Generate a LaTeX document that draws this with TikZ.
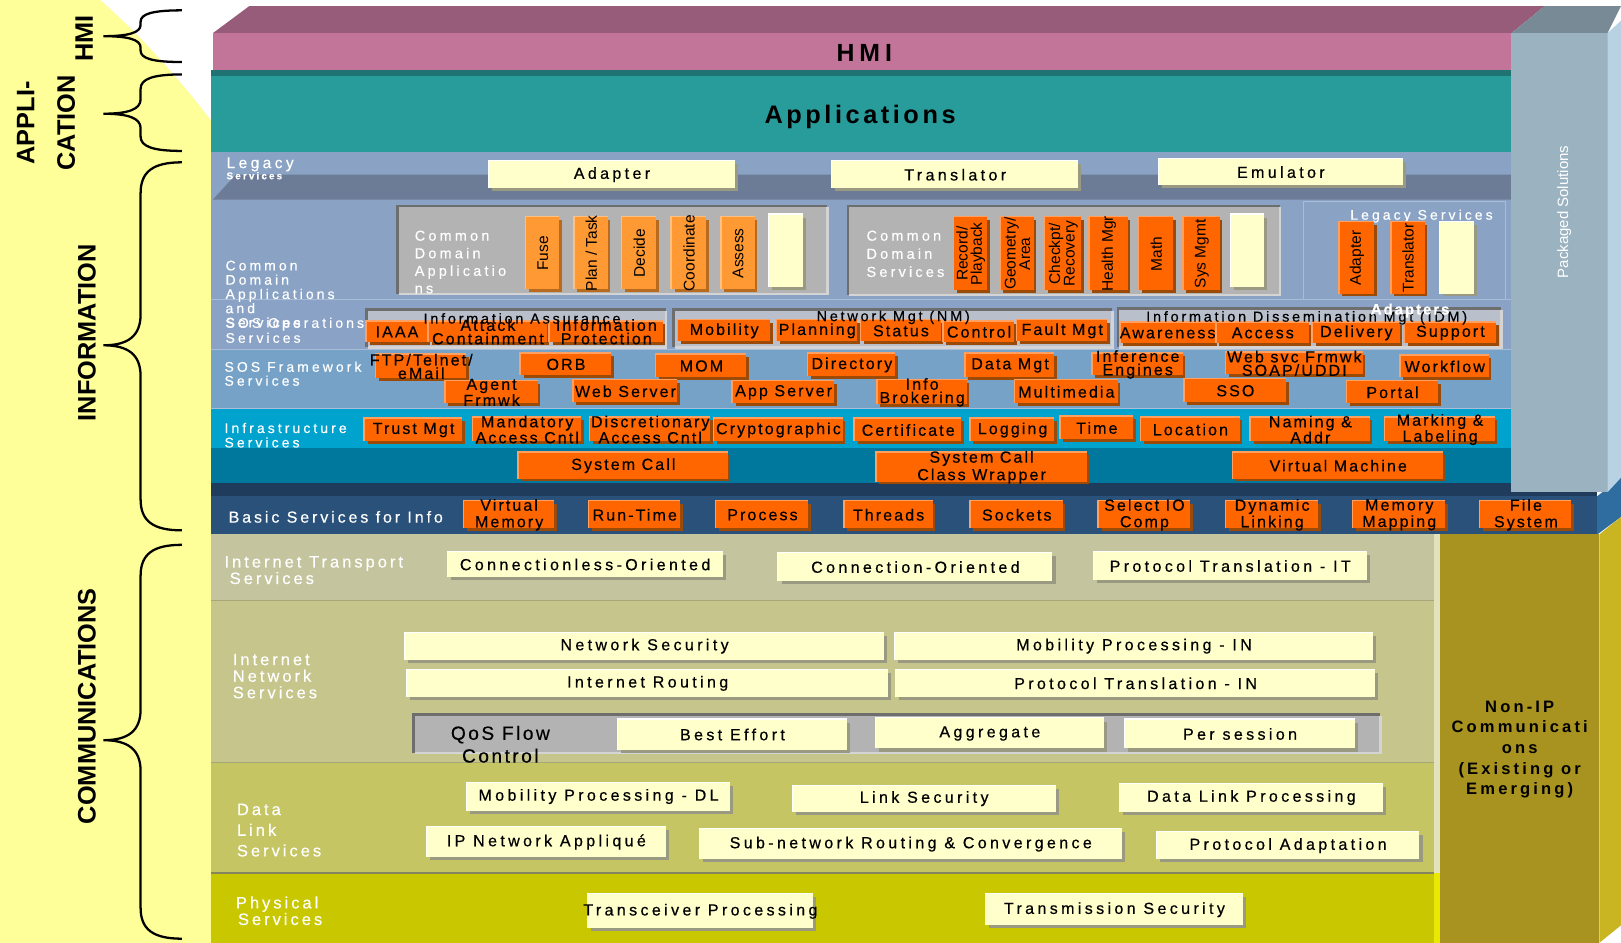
\documentclass[tikz,border=0pt]{standalone}
\usepackage{fontspec}
\setmainfont{Liberation Sans}
\newfontfamily\fPlain{Liberation Sans}
\newfontfamily\fLab[LetterSpace=22,FakeBold=0.4]{Liberation Sans}
\newfontfamily\fCom[LetterSpace=18,FakeBold=0.4]{Liberation Sans}
\newfontfamily\fBox[LetterSpace=21,FakeBold=0.5]{Liberation Sans}
\newfontfamily\fOr[LetterSpace=13,FakeBold=0.4]{Liberation Sans}
\newfontfamily\fTitle[LetterSpace=19,FakeBold=0.4]{Liberation Sans}
\newfontfamily\fHmi[LetterSpace=20]{Liberation Sans}
\newfontfamily\fApp[LetterSpace=14]{Liberation Sans}
\newfontfamily\fNon[LetterSpace=19]{Liberation Sans}

% palette
\definecolor{YelBg}{HTML}{FFFF99}
\definecolor{HmiTop}{HTML}{975C79}
\definecolor{HmiFront}{HTML}{C27499}
\definecolor{AppDark}{HTML}{1F7373}
\definecolor{AppFront}{HTML}{289B9B}
\definecolor{LegFront}{HTML}{8AA3C4}
\definecolor{LegTop}{HTML}{6C7C97}
\definecolor{OpsFront}{HTML}{8AA2C5}
\definecolor{FwFront}{HTML}{76A2C8}
\definecolor{InfFront}{HTML}{00A3CE}
\definecolor{Kern}{HTML}{00779C}
\definecolor{BasTop}{HTML}{1F3C5C}
\definecolor{Basic}{HTML}{2A5179}
\definecolor{BasSide}{HTML}{2F6CA0}
\definecolor{ColFront}{HTML}{9BB2C1}
\definecolor{ColTop}{HTML}{788A96}
\definecolor{ColSide}{HTML}{B8D1E3}
\definecolor{Trans}{HTML}{C4C59E}
\definecolor{Inet}{HTML}{C5C58C}
\definecolor{DLink}{HTML}{C5C563}
\definecolor{Phys}{HTML}{C8C700}
\definecolor{StripLt}{HTML}{E2E2BC}
\definecolor{StripYl}{HTML}{E8E800}
\definecolor{NonIP}{HTML}{A89320}
\definecolor{NonIPSide}{HTML}{C9B521}
\definecolor{CommLine}{HTML}{A6A678}
\definecolor{SepBlue}{HTML}{A9BDD9}
\definecolor{OFill}{HTML}{FF6600}
\definecolor{OHi}{HTML}{FFA060}
\definecolor{OSh}{HTML}{9C4A08}
\definecolor{LOFill}{HTML}{FF9933}
\definecolor{LOHi}{HTML}{FFC080}
\definecolor{LOSh}{HTML}{B86A1E}
\definecolor{YFill}{HTML}{FFFFCC}
\definecolor{YSh}{HTML}{9A9A82}
\definecolor{PGray}{HTML}{B3B3B3}
\definecolor{PDark}{HTML}{6E6E6E}
\definecolor{PEdge}{HTML}{D4D4D4}
\definecolor{OpsPanel}{HTML}{B9C0CC}

\tikzset{
  ysh/.style={fill=YSh}, yhi/.style={fill=white}, yfill/.style={fill=YFill},
  osh/.style={fill=OSh}, ohi/.style={fill=OHi}, ofill/.style={fill=OFill},
  losh/.style={fill=LOSh}, lohi/.style={fill=LOHi}, lofill/.style={fill=LOFill},
  ytext/.style={font=\fBox\fontsize{15.5}{15}\selectfont, align=center, inner sep=0},
  otext/.style={font=\fOr\fontsize{15.5}{13}\selectfont, align=center, inner sep=0},
  vtext/.style={font=\fPlain\fontsize{15}{14}\selectfont, align=center, inner sep=0, rotate=90},
  rowlab/.style={font=\fLab\fontsize{13.5}{13.8}\selectfont, text=white, anchor=west, align=left, inner sep=0},
  comlab/.style={font=\fCom\fontsize{16}{16}\selectfont, text=white, anchor=west, align=left, inner sep=0},
  paneltitle/.style={font=\fTitle\fontsize{14}{13}\selectfont, inner sep=0},
  sidelab/.style={font=\fPlain\bfseries\fontsize{24.5}{39}\selectfont, rotate=90, align=center, inner sep=0},
  brc/.style={line width=2.2pt, black},
}

% yellow service box: [node opts]{name}{x1}{y1}{x2}{y2}{text}
\newcommand\YBox[7][]{%
  \fill[ysh] ({#3+3},{#4+3}) rectangle ({#5+3},{#6+3});
  \fill[yhi] ({#3-1},{#4-1}) rectangle (#5,#6);
  \fill[yfill] (#3,#4) rectangle (#5,#6);
  \node[ytext,#1] (#2) at ({(#3+#5)/2},{(#4+#6)/2}) {#7};}
% orange service box
\newcommand\OBox[7][]{%
  \fill[osh] ({#3+2.5},{#4+2.5}) rectangle ({#5+2.5},{#6+2.5});
  \fill[ohi] ({#3-1.5},{#4-1.5}) rectangle (#5,#6);
  \fill[ofill] (#3,#4) rectangle (#5,#6);
  \node[otext,#1] (#2) at ({(#3+#5)/2},{(#4+#6)/2}) {#7};}
% upright box with rotated text, palette prefix o / lo / y
\newcommand\VBox[8][]{%
  \fill[#7sh] ({#3+2.5},{#4+2.5}) rectangle ({#5+2.5},{#6+2.5});
  \fill[#7hi] ({#3-1.5},{#4-1.5}) rectangle (#5,#6);
  \fill[#7fill] (#3,#4) rectangle (#5,#6);
  \node[vtext,#1] (#2) at ({(#3+#5)/2},{(#4+#6)/2}) {#8};}
% recessed grey panel
\newcommand\GPanel[5][PGray]{%
  \fill[PDark] (#2,#3) rectangle (#4,#5);
  \fill[PEdge] ({#2+2.5},{#3+2.5}) rectangle ({#4+1.5},{#5+1.5});
  \fill[#1] ({#2+2.5},{#3+2.5}) rectangle ({#4-1},{#5-1});}
% curly brace opening to the right: [radius]{top}{tip}{bottom}
\newcommand\Brc[4][30]{%
  \draw[brc] (176,#2) .. controls (148,#2) and (136,{#2+0.3*#1}) .. (136,{#2+#1})
    -- (136,{#3-#1}) .. controls (136,{#3-0.3*#1}) and (124,#3) .. (100,#3)
    .. controls (124,#3) and (136,{#3+0.3*#1}) .. (136,{#3+#1})
    -- (136,{#4-#1}) .. controls (136,{#4-0.3*#1}) and (148,#4) .. (176,#4);}

\begin{document}
\begin{tikzpicture}[x=1pt,y=-1pt]
\useasboundingbox (0,0) rectangle (1568,912);
\fill[white] (0,0) rectangle (1568,912);
\fill[YelBg] (0,0) -- (97,0) .. controls (140,38) and (178,82) .. (206,119) -- (206,912) -- (0,912) -- cycle;

% ---------- information stack ----------
\fill[HmiTop] (206,32) -- (241,6) -- (1494,6) -- (1462,32) -- cycle;
\fill[HmiFront] (206,32) rectangle (1462,68);
\fill[AppDark] (204,68) rectangle (1462,74);
\fill[AppFront] (204,74) rectangle (1462,147);
\fill[LegFront] (204,147) rectangle (1462,193);
\fill[LegTop] (206,193) -- (228,169) -- (1462,169) -- (1462,193) -- cycle;
\fill[LegFront] (204,193) rectangle (1462,290);
\fill[OpsFront] (204,290) rectangle (1462,338);
\fill[FwFront] (204,338) rectangle (1462,395);
\fill[InfFront] (204,395) rectangle (1462,433);
\fill[Kern] (204,433) rectangle (1462,467);
\fill[BasTop] (204,467) rectangle (1545,480);
\fill[Basic] (204,480) rectangle (1545,517);
\fill[BasSide] (1545,480) -- (1568,462) -- (1568,500) -- (1545,517) -- cycle;
\draw[SepBlue, line width=1pt] (204,290) -- (1462,290);
\draw[SepBlue, line width=1pt] (204,338) -- (1462,338);
\draw[SepBlue, line width=1pt] (204,395) -- (1462,395);

% packaged solutions column
\fill[ColTop] (1462,32) -- (1494,6) -- (1568,6) -- (1555,32) -- cycle;
\fill[ColFront] (1462,32) rectangle (1555,476);
\fill[ColSide] (1555,32) -- (1568,20) -- (1568,462) -- (1555,476) -- cycle;
\node[font=\fPlain\fontsize{14.5}{15}\selectfont, text=white, rotate=90, inner sep=0] (pkg) at (1513,205) {Packaged Solutions};

% ---------- communications stack ----------
\fill[Trans] (204,517) rectangle (1390,580);
\fill[Inet] (204,580) rectangle (1390,737);
\fill[DLink] (204,737) rectangle (1390,844);
\fill[Phys] (204,844) rectangle (1390,912);
\draw[CommLine, line width=1.2pt] (204,580.5) -- (1390,580.5);
\draw[CommLine, line width=1.2pt] (204,737.5) -- (1390,737.5);
\draw[CommLine!80!black, line width=1.2pt] (204,844.5) -- (1390,844.5);
\fill[StripLt] (1387,517) rectangle (1393,844);
\fill[StripYl] (1387,844) rectangle (1393,912);
\fill[NonIP] (1393,517) rectangle (1547,912);
\fill[NonIPSide] (1547,517) -- (1568,500) -- (1568,895) -- (1547,912) -- cycle;
\node[font=\fNon\bfseries\fontsize{16}{20}\selectfont, align=center, inner sep=0] (nonip) at (1470,725)
  {Non-IP\\Communicati\\ons\\(Existing or\\Emerging)};

% ---------- side labels and braces ----------
\node[sidelab] (lblHMI) at (81.5,37) {HMI};
\node[sidelab] (lblApp) at (44.5,119) {APPLI-\\CATION};
\node[sidelab] (lblInfo) at (84,322) {INFORMATION};
\node[sidelab] (lblComm) at (84,683) {COMMUNICATIONS};
\Brc[11]{10}{35}{60}
\Brc[14]{72}{110}{146}
\Brc[30]{157}{334}{513}
\Brc[30]{527}{716}{908}

% ---------- HMI / applications ----------
\node[font=\fHmi\bfseries\fontsize{24}{24}\selectfont, inner sep=0] (hmiT) at (836,51) {HMI};
\node[font=\fApp\bfseries\fontsize{24.5}{25}\selectfont, inner sep=0] (appT) at (832,113) {Applications};

% ---------- legacy services ----------
\node[font=\fLab\fontsize{15}{14}\selectfont, text=white, anchor=west, inner sep=0] (legL) at (219,159) {Legacy};
\node[font=\fLab\bfseries\fontsize{9.5}{10}\selectfont, text=white, anchor=west, inner sep=0] (legS) at (219,170) {Services};
\YBox{adapter}{473}{156}{711}{182}{Adapter}
\YBox{translator}{805}{156}{1043}{182}{Translator}
\YBox{emulator}{1121}{154}{1357}{179}{Emulator}

% ---------- common domain ----------
\node[rowlab] (cdaL) at (218,284.5) {Common\\Domain\\Applications\\and\\Services};
\GPanel{383}{198}{800}{284}
\node[font=\fLab\fontsize{14}{17}\selectfont, text=white, anchor=west, align=left, inner sep=0] (cdaP) at (401,253.5) {Common\\Domain\\Applicatio\\ns};
\VBox{fuse}{509}{210}{541}{280}{lo}{Fuse}
\VBox{plan}{556}{210}{588}{280}{lo}{Plan / Task}
\VBox{decide}{602}{210}{635}{280}{lo}{Decide}
\VBox{coord}{650}{210}{683}{280}{lo}{Coordinate}
\VBox{assess}{698}{210}{730}{280}{lo}{Assess}
\VBox{cdaBlank}{744}{208}{777}{278}{y}{}

\GPanel{819}{198}{1238}{285}
\node[font=\fLab\fontsize{14}{17.5}\selectfont, text=white, anchor=west, align=left, inner sep=0] (cdsP) at (838,245.5) {Common\\Domain\\Services};
\VBox{record}{923}{210}{955}{281}{o}{Record/\\Playback}
\VBox{geom}{968}{210}{1000}{281}{o}{Geometry/\\Area}
\VBox{checkpt}{1011}{210}{1046}{281}{o}{Checkpt/\\Recovery}
\VBox{health}{1054}{210}{1091}{281}{o}{Health Mgr}
\VBox{math}{1102}{210}{1135}{281}{o}{Math}
\VBox{sysmgmt}{1145}{210}{1180}{281}{o}{Sys Mgmt}
\VBox{cdsBlank}{1191}{208}{1223}{278}{y}{}

\draw[SepBlue, line width=1pt] (1261,290) -- (1261,195) -- (1456,195) -- (1456,290);
\node[font=\fLab\fontsize{13.5}{13}\selectfont, text=white, inner sep=0] (legSvc) at (1375,209) {Legacy Services};
\VBox{lsAdapter}{1296}{215}{1329}{284}{o}{Adapter}
\VBox{lsTranslator}{1346}{215}{1378}{284}{o}{Translator}
\VBox{lsBlank}{1393}{215}{1426}{284}{y}{}

% ---------- SOS operations ----------
\node[font=\fLab\fontsize{13.5}{14.5}\selectfont, text=white, anchor=west, align=left, inner sep=0] (opsL) at (218,319.5) {SOS Operations\\Services};
\GPanel[OpsPanel]{353}{298}{644}{336}
\OBox{iaaa}{355}{311}{413}{331}{IAAA}
\OBox{attack}{415}{311}{529}{331}{Attack\\Containment}
\OBox{infoprot}{532}{311}{641}{331}{Information\\Protection}
\node[paneltitle] (iaT) at (505,308) {Information Assurance};
\GPanel[OpsPanel]{650}{298}{1076}{336}
\OBox{mobility}{656}{310}{745}{330}{Mobility}
\OBox{planning}{752}{310}{829}{330}{Planning}
\OBox{status}{833}{310}{910}{330}{Status}
\OBox{control}{913}{311}{981}{331}{Control}
\OBox{fault}{984}{310}{1071}{330}{Fault Mgt}
\node[paneltitle] (nmT) at (864,307) {Network Mgt (NM)};
\GPanel[OpsPanel]{1080}{297}{1452}{336}
\OBox{aware}{1084}{312}{1175}{332}{Awareness}
\OBox{access}{1177}{312}{1266}{332}{Access}
\OBox{delivery}{1270}{312}{1354}{332}{Delivery}
\OBox{support}{1359}{312}{1447}{332}{Support}
\node[paneltitle] (idmT) at (1264,307.5) {Information Dissemination Mgt (IDM)};
\node[font=\fOr\bfseries\fontsize{14.5}{14}\selectfont, text=white, inner sep=0] (adapters) at (1364,300.5) {Adapters};

% ---------- SOS framework ----------
\node[font=\fLab\fontsize{13.5}{13.5}\selectfont, text=white, anchor=west, align=left, inner sep=0] (fwL) at (217,361.5) {SOS Framework\\Services};
\OBox{ftp}{364}{343}{451}{366}{FTP/Telnet/\\eMail}
\OBox{orb}{504}{342}{591}{363}{ORB}
\OBox{mom}{635}{343}{722}{365}{MOM}
\OBox{directory}{782}{342}{866}{364}{Directory}
\OBox{datamgt}{934}{342}{1020}{365}{Data Mgt}
\OBox{inference}{1057}{342}{1144}{363}{Inference\\Engines}
\OBox{websvc}{1186}{341}{1318}{362}{Web svc Frmwk\\SOAP/UDDI}
\OBox{workflow}{1355}{344}{1440}{365}{Workflow}
\OBox{agent}{431}{369}{520}{390}{Agent\\Frmwk}
\OBox{webserver}{555}{368}{655}{389}{Web Server}
\OBox{appserver}{709}{369}{807}{390}{App Server}
\OBox{infobrok}{849}{368}{935}{391}{Info\\Brokering}
\OBox{multimedia}{982}{368}{1081}{390}{Multimedia}
\OBox{sso}{1146}{367}{1244}{389}{SSO}
\OBox{portal}{1303}{369}{1391}{390}{Portal}

% ---------- infrastructure ----------
\node[font=\fLab\fontsize{13.5}{14}\selectfont, text=white, anchor=west, align=left, inner sep=0] (infL) at (217,421) {Infrastructure\\Services};
\OBox{trust}{353}{405}{447}{427}{Trust Mgt}
\OBox{mandatory}{458}{404}{562}{427}{Mandatory\\Access Cntl}
\OBox{discretionary}{571}{404}{687}{427}{Discretionary\\Access Cntl}
\OBox{crypto}{691}{405}{815}{427}{Cryptographic}
\OBox{certificate}{827}{405}{930}{427}{Certificate}
\OBox{logging}{939}{405}{1020}{427}{Logging}
\OBox{time}{1026}{403}{1096}{425}{Time}
\OBox{location}{1104}{404}{1199}{427}{Location}
\OBox{naming}{1210}{404}{1325}{427}{Naming \&\\Addr}
\OBox{marking}{1340}{404}{1446}{427}{Marking \&\\Labeling}

% ---------- kernel ----------
\OBox{syscall}{502}{438}{704}{463}{System Call}
\OBox[font=\fOr\fontsize{15.5}{17}\selectfont]{syswrap}{848}{438}{1051}{466}{System Call\\Class Wrapper}
\OBox{vm}{1193}{438}{1396}{463}{Virtual Machine}

% ---------- basic services ----------
\node[font=\fCom\fontsize{15.5}{15}\selectfont, text=white, anchor=west, inner sep=0] (basL) at (221,500) {Basic Services for Info};
\tikzset{otext/.append style={font=\fOr\fontsize{15.5}{16}\selectfont}}
\OBox{vmem}{449}{485}{536}{511}{Virtual\\Memory}
\OBox{runtime}{570}{485}{658}{511}{Run-Time}
\OBox{process}{693}{485}{782}{511}{Process}
\OBox{threads}{817}{485}{902}{511}{Threads}
\OBox{sockets}{939}{485}{1028}{511}{Sockets}
\OBox{selectio}{1063}{485}{1151}{511}{Select IO\\Comp}
\OBox{dynlink}{1186}{485}{1275}{511}{Dynamic\\Linking}
\OBox{memmap}{1309}{485}{1398}{511}{Memory\\Mapping}
\OBox{filesys}{1432}{485}{1520}{511}{File\\System}

% ---------- internet transport ----------
\node[comlab] (itL) at (217,551.5) {Internet Transport\\\hspace*{5pt}Services};
\YBox{connless}{433}{534}{699}{558}{Connectionless-Oriented}
\YBox{connor}{753}{535}{1018}{562}{Connection-Oriented}
\YBox{ptit}{1058}{534}{1322}{561}{Protocol Translation - IT}

% ---------- internet network ----------
\node[comlab] (inL) at (225,654) {Internet\\Network\\Services};
\YBox{netsec}{392}{612}{855}{638}{Network Security}
\YBox{inroute}{394}{648}{859}{674}{Internet Routing}
\YBox{mobin}{866}{612}{1328}{638}{Mobility Processing - IN}
\YBox{ptin}{867}{648}{1330}{674}{Protocol Translation - IN}
\GPanel{399}{690}{1335}{728}
\node[font=\fOr\fontsize{18.5}{22}\selectfont, align=center, inner sep=0] (qos) at (484,720) {QoS Flow\\Control};
\YBox{besteff}{598}{696}{819}{725}{Best Effort}
\YBox{aggregate}{847}{695}{1068}{724}{Aggregate}
\YBox{persession}{1088}{696}{1311}{724}{Per session}

% ---------- data link ----------
\node[comlab, font=\fCom\fontsize{16}{20}\selectfont] (dlL) at (229,803) {Data\\Link\\Services};
\YBox{mobdl}{452}{757}{706}{784}{Mobility Processing - DL}
\YBox{linksec}{767}{760}{1021}{785}{Link Security}
\YBox{dlproc}{1083}{758}{1338}{785}{Data Link Processing}
\YBox{ipnet}{413}{800}{644}{829}{IP Network Appliqué}
\YBox{subnet}{677}{802}{1085}{831}{Sub-network Routing \& Convergence}
\YBox{protad}{1119}{805}{1373}{831}{Protocol Adaptation}

% ---------- physical ----------
\node[comlab] (phL) at (228,881) {Physical\\\hspace*{2pt}Services};
\YBox{transc}{569}{865}{786}{898}{Transceiver Processing}
\YBox{transsec}{954}{865}{1202}{895}{Transmission Security}
\end{tikzpicture}
\end{document}
